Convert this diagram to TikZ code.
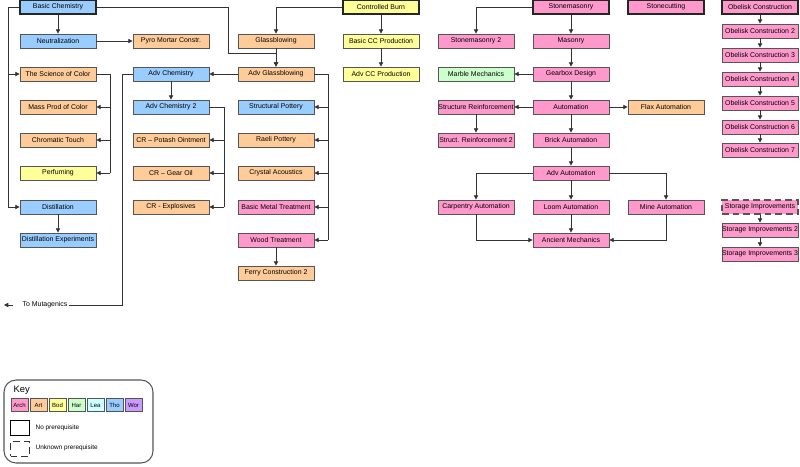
\documentclass[tikz,border=0pt]{standalone}
\usepackage{fontspec}
\setmainfont{Liberation Sans}
\usetikzlibrary{arrows.meta}
\definecolor{cArch}{HTML}{FF99CC}
\definecolor{cArt}{HTML}{FFCC99}
\definecolor{cBod}{HTML}{FFFF99}
\definecolor{cHar}{HTML}{CCFFCC}
\definecolor{cLea}{HTML}{CCFFFF}
\definecolor{cTho}{HTML}{99CCFF}
\definecolor{cWor}{HTML}{CC99FF}
\definecolor{edge}{HTML}{555555}
\tikzset{
 bx/.style={draw=edge,line width=0.6pt,minimum width=57pt,minimum height=10.5pt,inner sep=0pt,font=\fontsize{5.2}{6}\selectfont},
 root/.style={line width=1.2pt,draw=black!85},
 unk/.style={dashed,dash pattern=on 5pt off 3pt,line width=1pt},
 arch/.style={bx,fill=cArch}, art/.style={bx,fill=cArt}, bod/.style={bx,fill=cBod},
 har/.style={bx,fill=cHar}, tho/.style={bx,fill=cTho},
 ar/.style={draw=black!80,line width=0.6pt,-{Triangle[length=3.2pt,width=3.2pt]}},
 ln/.style={draw=black!80,line width=0.6pt},
 sw/.style={draw=edge,line width=0.5pt,minimum width=12.5pt,minimum height=10pt,inner sep=0pt,font=\fontsize{4.5}{5}\selectfont},
}
\begin{document}
\begin{tikzpicture}[x=0.75pt,y=-0.75pt]
\useasboundingbox (0,0) rectangle (800,467);
% column 1
\node[tho,root] (bc) at (58,7) {Basic Chemistry};
\node[tho] (neu) at (58,41) {Neutralization};
\node[art] (soc) at (58,74) {The Science of Color};
\node[art] (mpc) at (58,107) {Mass Prod of Color};
\node[art] (cht) at (58,140) {Chromatic Touch};
\node[bod] (per) at (58,173) {Perfuming};
\node[tho] (dis) at (58,207) {Distillation};
\node[tho] (dex) at (58,240) {Distillation Experiments};
% column 2
\node[art] (pyr) at (171,41) {Pyro Mortar Constr.};
\node[tho] (ach) at (171,74) {Adv Chemistry};
\node[tho] (ac2) at (171,107) {Adv Chemistry 2};
\node[art] (pot) at (171,140) {CR -- Potash Ointment};
\node[art] (goi) at (171,173) {CR -- Gear Oil};
\node[art] (exp) at (171,207) {CR - Explosives};
% column 3
\node[art] (gla) at (276,41) {Glassblowing};
\node[art] (agl) at (276,74) {Adv Glassblowing};
\node[tho] (spo) at (276,107) {Structural Pottery};
\node[art] (rae) at (276,140) {Raeli Pottery};
\node[art] (cry) at (276,173) {Crystal Acoustics};
\node[arch] (bmt) at (276,207) {Basic Metal Treatment};
\node[arch] (woo) at (276,240) {Wood Treatment};
\node[art] (fer) at (276,273) {Ferry Construction 2};
% column 4
\node[bod,root] (cb) at (381,7) {Controlled Burn};
\node[bod] (bcc) at (381,41) {Basic CC Production};
\node[bod] (acc) at (381,74) {Adv CC Production};
% column 5-7
\node[arch] (sm2) at (476,41) {Stonemasonry 2};
\node[har] (mar) at (476,74) {Marble Mechanics};
\node[arch] (sr) at (476,107) {Structure Reinforcement};
\node[arch] (sr2) at (476,140) {Struct. Reinforcement 2};
\node[arch] (car) at (476,207) {Carpentry Automation};
\node[arch,root] (sto) at (571,7) {Stonemasonry};
\node[arch] (mas) at (571,41) {Masonry};
\node[arch] (gea) at (571,74) {Gearbox Design};
\node[arch] (aut) at (571,107) {Automation};
\node[arch] (bri) at (571,140) {Brick Automation};
\node[arch] (aau) at (571,173) {Adv Automation};
\node[arch] (loo) at (571,207) {Loom Automation};
\node[arch] (anc) at (571,240) {Ancient Mechanics};
\node[arch,root] (stc) at (666,7) {Stonecutting};
\node[art] (fla) at (666,107) {Flax Automation};
\node[arch] (min) at (666,207) {Mine Automation};
% column 8
\node[arch,root] (ob1) at (760,7) {Obelisk Construction};
\node[arch] (ob2) at (760,31) {Obelisk Construction 2};
\node[arch] (ob3) at (760,55) {Obelisk Construction 3};
\node[arch] (ob4) at (760,79) {Obelisk Construction 4};
\node[arch] (ob5) at (760,103) {Obelisk Construction 5};
\node[arch] (ob6) at (760,127) {Obelisk Construction 6};
\node[arch] (ob7) at (760,150) {Obelisk Construction 7};
\node[arch,unk] (si1) at (760,207) {Storage Improvements};
\node[arch] (si2) at (760,230) {Storage Improvements 2};
\node[arch] (si3) at (760,254) {Storage Improvements 3};
% edges
\draw[ar] (bc) -- (neu);
\draw[ar] (bc.west) -- (8,7) |- (soc.west);
\draw[ar] (8,74) |- (dis.west);
\draw[ar] (bc.east) -- (228,7) -- (228,53) -- (276,53) -- (agl.north);
\draw[ar] (neu) -- (pyr);
\draw[ln] (soc.east) -- (110,74) -- (110,173);
\foreach \n in {mpc,cht,per} \draw[ar] (110,0|-\n) -- (\n.east);
\draw[ar] (dis) -- (dex);
\draw[ar] (cb.west) -- (276,7) -- (gla.north);
\draw[ar] (gla) -- (agl);
\draw[ar] (agl) -- (ach);
\draw[ar] (ach) -- (ac2);
\draw[ln] (ac2.east) -- (224,107) -- (224,207);
\foreach \n in {pot,goi,exp} \draw[ar] (224,0|-\n) -- (\n.east);
\draw[ln] (agl.east) -- (328,74) -- (328,240);
\foreach \n in {spo,rae,cry,bmt,woo} \draw[ar] (328,0|-\n) -- (\n.east);
\draw[ar] (woo) -- (fer);
\node[fill=white,inner sep=1pt,font=\fontsize{5.2}{6}\selectfont] (mut) at (45,305) {To Mutagenics};
\coordinate (mutend) at (4,305);
\draw[ln] (ach.west) -- (122,74) -- (122,305) -- (mut.east);
\draw[ar] (mut.west) ++(-8,0) -- (mutend);
\draw[ar] (cb) -- (bcc);
\draw[ar] (bcc) -- (acc);
\draw[ar] (sto.west) -| (sm2.north);
\draw[ar] (sto) -- (mas);
\draw[ar] (mas) -- (gea);
\draw[ar] (gea) -- (mar);
\draw[ar] (gea) -- (aut);
\draw[ar] (aut) -- (sr);
\draw[ar] (aut) -- (fla);
\draw[ar] (sr) -- (sr2);
\draw[ar] (aut) -- (bri);
\draw[ar] (bri) -- (aau);
\draw[ar] (aau.west) -| (car.north);
\draw[ar] (aau.east) -| (min.north);
\draw[ar] (aau) -- (loo);
\draw[ar] (loo) -- (anc);
\draw[ar] (car.south) |- (anc.west);
\draw[ar] (min.south) |- (anc.east);
\draw[ar] (ob1) -- (ob2);
\draw[ar] (ob2) -- (ob3);
\draw[ar] (ob3) -- (ob4);
\draw[ar] (ob4) -- (ob5);
\draw[ar] (ob5) -- (ob6);
\draw[ar] (ob6) -- (ob7);
\draw[ar] (si1) -- (si2);
\draw[ar] (si2) -- (si3);
% key
\draw[edge,line width=0.8pt,rounded corners=9pt] (4,380) rectangle (153,463);
\node[anchor=west,font=\fontsize{7}{8}\selectfont] (keyt) at (9,390) {Key};
\foreach \c/\t [count=\i] in {cArch/Arch,cArt/Art,cBod/Bod,cHar/Har,cLea/Lea,cTho/Tho,cWor/Wor}
  \node[sw,fill=\c] (k\i) at ({10+19*(\i-1)+9.5},405) {\t};
\node[draw=black,line width=1.2pt,minimum width=14pt,minimum height=11pt,inner sep=0pt] (knp) at (20,428) {};
\node[anchor=west,font=\fontsize{4.8}{5.5}\selectfont] (knpt) at (31,428) {No prerequisite};
\node[draw=black!80,unk,line width=0.8pt,minimum width=14pt,minimum height=11pt,inner sep=0pt] (kun) at (20,449) {};
\node[anchor=west,font=\fontsize{4.8}{5.5}\selectfont] (kunt) at (31,448) {Unknown prerequisite};
\end{tikzpicture}
\end{document}
